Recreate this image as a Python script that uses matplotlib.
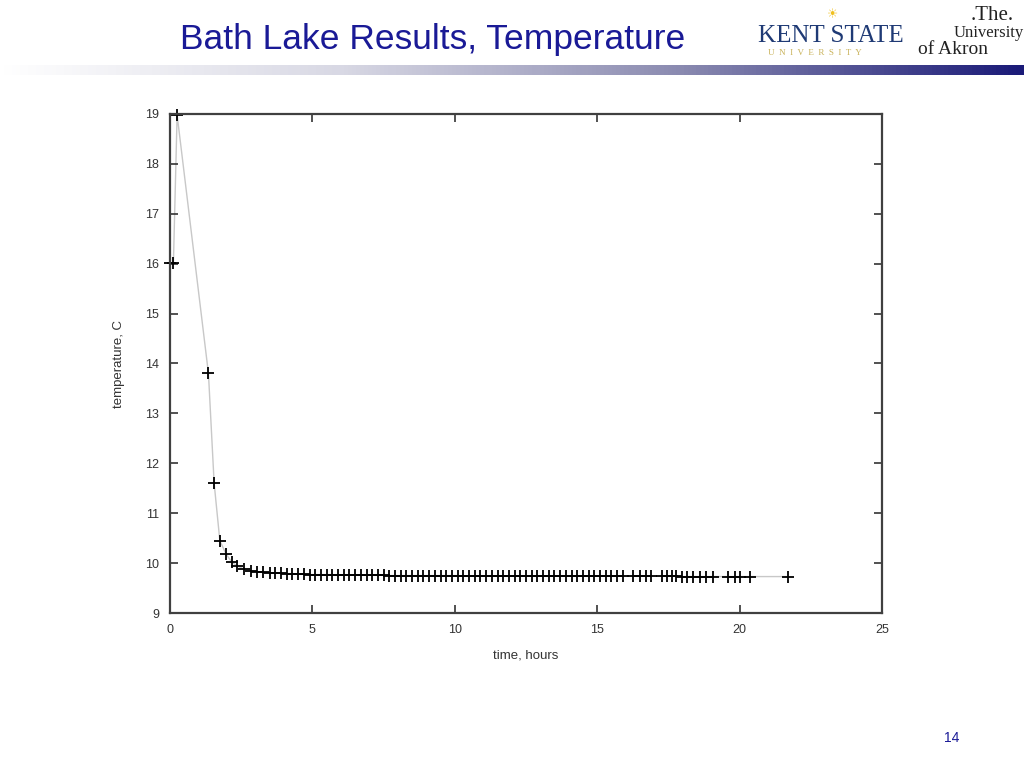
import matplotlib
matplotlib.use("Agg")
import matplotlib.pyplot as plt
import numpy as np
from matplotlib.colors import LinearSegmentedColormap

plt.rcParams['font.family'] = ['Liberation Sans', 'DejaVu Sans']

# ---- data ----
time_hours = [0.0, 0.12, 0.25, 1.35, 1.55, 1.75, 1.97, 2.17, 2.37, 2.6, 2.83, 3.05,
              3.28, 3.5, 3.7, 3.9, 4.1, 4.3, 4.5, 4.7, 4.9, 5.1, 5.3, 5.5, 5.7, 5.9,
              6.1, 6.3, 6.5, 6.7, 6.9, 7.1, 7.3, 7.5, 7.7, 7.9, 8.1, 8.3, 8.5, 8.7,
              8.9, 9.1, 9.3, 9.5, 9.7, 9.9, 10.1, 10.3, 10.5, 10.7, 10.9, 11.1, 11.3,
              11.5, 11.7, 11.9, 12.1, 12.3, 12.5, 12.7, 12.9, 13.1, 13.3, 13.5, 13.7,
              13.9, 14.1, 14.3, 14.5, 14.7, 14.9, 15.1, 15.3, 15.5, 15.7, 15.9,
              16.26, 16.5, 16.71, 16.89, 17.28, 17.45, 17.63, 17.77, 17.98, 18.15,
              18.36, 18.61, 18.82, 19.07, 19.59, 19.84, 20.01, 20.37, 21.7]
temperature_c = [16.02, 16.02, 18.98, 13.8, 11.6, 10.45, 10.18, 10.02, 9.94, 9.88, 9.85, 9.83,
                 9.82, 9.81, 9.80, 9.80, 9.79, 9.79, 9.78, 9.78, 9.77, 9.77, 9.77, 9.77, 9.77, 9.76,
                 9.76, 9.76, 9.76, 9.76, 9.76, 9.76, 9.76, 9.76, 9.75, 9.75, 9.75, 9.75, 9.75, 9.75,
                 9.75, 9.75, 9.75, 9.75, 9.75, 9.75, 9.75, 9.74, 9.74, 9.74, 9.74, 9.74, 9.74,
                 9.74, 9.74, 9.74, 9.74, 9.74, 9.74, 9.74, 9.74, 9.74, 9.74, 9.74, 9.74,
                 9.74, 9.74, 9.74, 9.74, 9.74, 9.74, 9.74, 9.74, 9.74, 9.74, 9.74,
                 9.74, 9.74, 9.74, 9.74, 9.74, 9.74, 9.74, 9.74, 9.73, 9.73,
                 9.73, 9.73, 9.73, 9.73, 9.73, 9.73, 9.73, 9.73, 9.73]
x_ticks = [0, 5, 10, 15, 20, 25]
y_ticks = [9, 10, 11, 12, 13, 14, 15, 16, 17, 18, 19]

title_text = "Bath Lake Results, Temperature"
page_number = "14"

fig = plt.figure(figsize=(10.24, 7.68), dpi=100)
fig.patch.set_facecolor('white')

# ---- header gradient bar ----
bar_ax = fig.add_axes([0, 1 - 75 / 768, 1, 10 / 768])
grad = np.linspace(0, 1, 512).reshape(1, -1)
cmap = LinearSegmentedColormap.from_list('hdr', ['#ffffff', '#d8d8e4', '#8a8ab0', '#1a1a78'])
bar_ax.imshow(grad, aspect='auto', cmap=cmap, extent=[0, 1, 0, 1])
bar_ax.axis('off')

# ---- title ----
fig.text(433 / 1024, 1 - 39 / 768, title_text, ha='center', va='center',
         fontsize=25.5, color='#1a1a96')

# ---- logos (as text) ----
fig.text(758 / 1024, 1 - 36 / 768, "KENT STATE", ha='left', va='center',
         fontsize=18, color='#1f3a75', family=['Liberation Serif'])
fig.text(768 / 1024, 1 - 53 / 768, "U  N  I  V  E  R  S  I  T  Y", ha='left', va='center',
         fontsize=6.5, color='#c9b25a', family=['Liberation Serif'])
fig.text(833 / 1024, 1 - 15 / 768, "\u2600", ha='center', va='center',
         fontsize=9, color='#f0c020', family=['DejaVu Sans'])
fig.text(992 / 1024, 1 - 15 / 768, ".The.", ha='center', va='center',
         fontsize=15, color='#222222', family=['Liberation Serif'])
fig.text(989 / 1024, 1 - 33 / 768, "University", ha='center', va='center',
         fontsize=12, color='#222222', family=['Liberation Serif'])
fig.text(953 / 1024, 1 - 50 / 768, "of Akron", ha='center', va='center',
         fontsize=14, color='#222222', family=['Liberation Serif'])

# ---- page number ----
fig.text(952 / 1024, 1 - 738 / 768, page_number, ha='center', va='center',
         fontsize=10, color='#1a1a96')

# ---- chart ----
ax = fig.add_axes([170 / 1024, 1 - 613 / 768, 712 / 1024, 499 / 768])
ax.plot(time_hours, temperature_c, color='#c8c8c8', linewidth=1.0, zorder=1)
ax.plot(time_hours, temperature_c, linestyle='none', marker='+', markersize=8,
        markeredgewidth=1.3, color='black', zorder=2, clip_on=False)
ax.set_xlim(0, 25)
ax.set_ylim(9, 19)
ax.set_xticks(x_ticks)
ax.set_yticks(y_ticks)
ax.tick_params(direction='in', length=6, width=1.2, color='#333333',
               top=True, right=True, labelsize=9, labelcolor='#333333', pad=8)
for s in ax.spines.values():
    s.set_color('#404040')
    s.set_linewidth(1.6)
ax.set_xlabel("time, hours", fontsize=9.5, color='#333333', labelpad=10)
ax.set_ylabel("temperature, C", fontsize=9.5, color='#333333', labelpad=14)

fig.savefig("out.png", dpi=100, facecolor='white')
